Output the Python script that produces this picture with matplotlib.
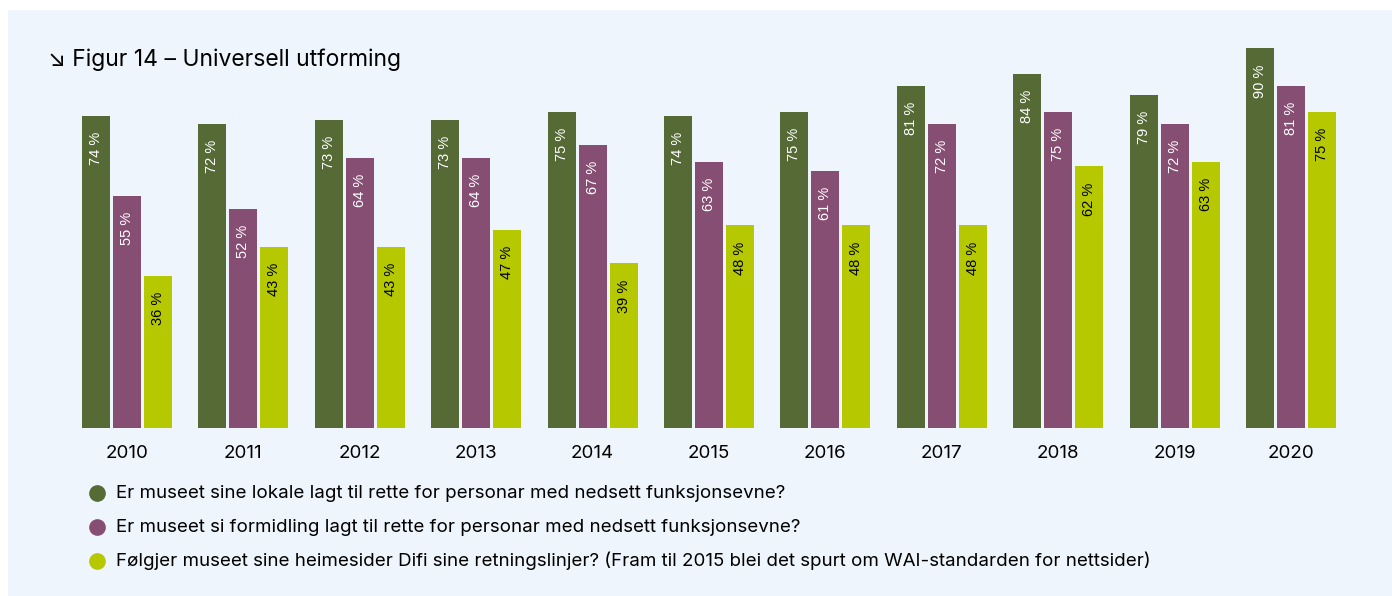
import numpy as np
import matplotlib
matplotlib.use("Agg")
import matplotlib.pyplot as plt
from matplotlib.patches import Rectangle

#%% Data
years = ["2010", "2011", "2012", "2013", "2014", "2015",
         "2016", "2017", "2018", "2019", "2020"]
lokale = [74, 72, 73, 73, 75, 74, 75, 81, 84, 79, 90]
formidling = [55, 52, 64, 64, 67, 63, 61, 72, 75, 72, 81]
heimesider = [36, 43, 43, 47, 39, 48, 48, 48, 62, 63, 75]

series_names = [
    "Er museet sine lokale lagt til rette for personar med nedsett funksjonsevne?",
    "Er museet si formidling lagt til rette for personar med nedsett funksjonsevne?",
    "Følgjer museet sine heimesider Difi sine retningslinjer? (Fram til 2015 blei det spurt om WAI-standarden for nettsider)",
]
title = "↘ Figur 14 – Universell utforming"

colors = ["#566A36", "#874E73", "#B5C800"]
text_colors = ["white", "white", "black"]
bg = "#EEF5FC"

#%% Figure
W, H = 1392, 596
fig = plt.figure(figsize=(W / 100, H / 100), dpi=100)
fig.patch.set_facecolor("white")
# light panel behind everything
fig.patches.append(Rectangle((8 / W, 0), 1 - 8 / W, 1 - 10 / H,
                             transform=fig.transFigure, facecolor=bg,
                             edgecolor="none", zorder=-5))

ax = fig.add_axes([40 / W, (H - 428) / H, 1340 / W, 422 / H])
ax.set_facecolor("none")
ax.set_zorder(2)

spacing = 116.4
x = np.arange(len(years))
width = 28 / spacing
step = 31 / spacing
all_series = [lokale, formidling, heimesider]

for k, vals in enumerate(all_series):
    pos = x + (k - 1) * step
    ax.bar(pos, vals, width=width, color=colors[k], zorder=2)
    for xi, v in zip(pos, vals):
        ax.annotate(f"{v} %", (xi, v), xytext=(0, -11.5),
                    textcoords="offset points", rotation=90,
                    ha="center", va="top", fontsize=10.5,
                    family="Liberation Sans", color=text_colors[k])

ax.set_xlim((40 - 127) / spacing, (1380 - 127) / spacing)
ax.set_ylim(0, 100)
ax.set_xticks(x)
ax.set_xticklabels(years, family="Inter", fontsize=13.5)
ax.tick_params(axis="x", length=0, pad=12.5)
ax.set_yticks([])
for s in ax.spines.values():
    s.set_visible(False)

fig.text(48 / W, 1 - 60 / H, title, family=["Inter", "DejaVu Sans"],
         fontsize=16.5, va="center", ha="left", zorder=3)

# legend
for k, name in enumerate(series_names):
    yy = 1 - (493 + k * 34) / H
    fig.lines.append(plt.Line2D([97 / W], [yy], marker="o", markersize=11,
                                color=colors[k], transform=fig.transFigure,
                                zorder=3))
    fig.text(116 / W, yy, name, family="Inter", fontsize=13.5,
             va="center", ha="left", zorder=3)

fig.savefig("out.png", dpi=100, facecolor=fig.get_facecolor())
